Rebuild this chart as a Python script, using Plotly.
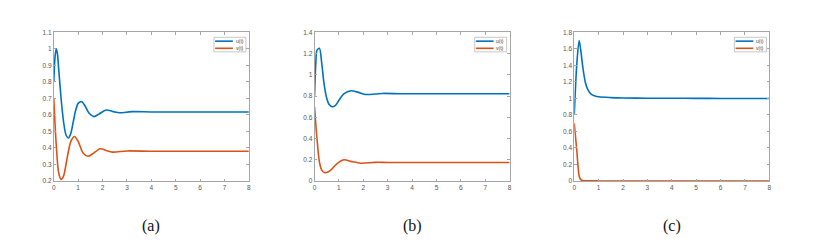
import plotly.graph_objects as go

# ---- data ----
# panel (a)
ta_u = [0, 0.05, 0.1, 0.15, 0.2, 0.3, 0.4, 0.5, 0.6, 0.7, 0.8, 0.9, 1.0, 1.15, 1.3, 1.45, 1.65, 1.85, 2.15, 2.45, 2.7, 3.2, 4, 5, 6, 7, 8]
ua = [0.80, 0.95, 1.00, 0.97, 0.88, 0.70, 0.56, 0.48, 0.46, 0.49, 0.56, 0.63, 0.67, 0.68, 0.65, 0.61, 0.59, 0.605, 0.63, 0.62, 0.613, 0.62, 0.618, 0.618, 0.618, 0.618, 0.618]
ta_v = [0, 0.1, 0.2, 0.3, 0.4, 0.5, 0.6, 0.7, 0.85, 1.0, 1.2, 1.4, 1.6, 1.9, 2.15, 2.4, 3.0, 4, 5, 6, 7, 8]
va = [0.70, 0.42, 0.25, 0.21, 0.23, 0.30, 0.38, 0.44, 0.47, 0.44, 0.37, 0.35, 0.365, 0.395, 0.385, 0.375, 0.382, 0.38, 0.38, 0.38, 0.38, 0.38]
# panel (b)
tb_u = [0, 0.05, 0.1, 0.2, 0.3, 0.4, 0.5, 0.6, 0.72, 0.85, 1.0, 1.2, 1.5, 1.8, 2.1, 2.5, 2.8, 3.5, 4, 5, 6, 7, 8]
ub = [0.80, 1.10, 1.23, 1.25, 1.10, 0.90, 0.78, 0.72, 0.70, 0.71, 0.76, 0.82, 0.85, 0.835, 0.815, 0.82, 0.825, 0.822, 0.822, 0.822, 0.822, 0.822, 0.822]
tb_v = [0, 0.1, 0.2, 0.3, 0.4, 0.55, 0.7, 0.9, 1.2, 1.5, 1.9, 2.5, 3, 4, 5, 6, 7, 8]
vb = [0.70, 0.40, 0.18, 0.10, 0.08, 0.085, 0.11, 0.16, 0.20, 0.185, 0.168, 0.176, 0.175, 0.175, 0.175, 0.175, 0.175, 0.175]
# panel (c)
tc_u = [0, 0.1, 0.2, 0.28, 0.35, 0.45, 0.55, 0.7, 0.85, 1.0, 1.5, 2, 3, 4, 5, 6, 7, 8]
uc = [0.80, 1.40, 1.70, 1.55, 1.38, 1.20, 1.11, 1.05, 1.03, 1.02, 1.01, 1.005, 1.003, 1.002, 1.001, 1.0, 1.0, 1.0]
tc_v = [0, 0.1, 0.2, 0.25, 0.3, 0.4, 0.6, 1, 2, 3, 4, 5, 6, 7, 8]
vc = [0.70, 0.38, 0.06, 0.025, 0.01, 0.004, 0.002, 0.001, 0.0, 0.0, 0.0, 0.0, 0.0, 0.0, 0.0]

panel_labels = ["(a)", "(b)", "(c)"]
series_names = ["u(t)", "v(t)"]
x_ticks = [0, 1, 2, 3, 4, 5, 6, 7, 8]
y_ranges = [[0.2, 1.1], [0, 1.4], [0, 1.8]]
y_dticks = [0.1, 0.2, 0.2]

BLUE = "#0072BD"
ORANGE = "#D95319"
colors = [BLUE, ORANGE]

panels = [
    (ta_u, ua, ta_v, va),
    (tb_u, ub, tb_v, vb),
    (tc_u, uc, tc_v, vc),
]

x_domains = [[44/833, 240/833], [306/833, 502/833], [567/833, 763/833]]
y_domain = [1 - 174/244, 1 - 21/244]

fig = go.Figure()
layout = {}
shapes = []
annotations = []
for i, (tu, u, tv, v) in enumerate(panels):
    sfx = "" if i == 0 else str(i + 1)
    xa, ya = "x" + sfx, "y" + sfx
    fig.add_trace(go.Scatter(x=tu, y=u, mode="lines", name=series_names[0],
                             line=dict(color=BLUE, width=1.6, shape="spline", smoothing=0.8),
                             xaxis=xa, yaxis=ya, showlegend=False))
    fig.add_trace(go.Scatter(x=tv, y=v, mode="lines", name=series_names[1],
                             line=dict(color=ORANGE, width=1.6, shape="spline", smoothing=0.8),
                             xaxis=xa, yaxis=ya, showlegend=False))
    axcommon = dict(showgrid=False, zeroline=False, showline=True, linecolor="#a6a6a6",
                    linewidth=0.8, mirror="ticks", ticks="inside", ticklen=2.5,
                    tickcolor="#a6a6a6", tickwidth=0.8,
                    tickfont=dict(family="Liberation Sans, Arial", size=6.5, color="#555555"))
    layout["xaxis" + sfx] = dict(axcommon, domain=x_domains[i], range=[0, 8],
                                 tickvals=x_ticks, anchor=ya)
    layout["yaxis" + sfx] = dict(axcommon, domain=y_domain, range=y_ranges[i],
                                 dtick=y_dticks[i], tick0=0, anchor=xa)

    # compact MATLAB-style legend box in the upper right of each panel
    xr, yr = xa + " domain", ya + " domain"
    shapes.append(dict(type="rect", xref=xr, yref=yr, x0=0.821, x1=0.985, y0=0.869, y1=0.967,
                       line=dict(color="#b0b0b0", width=0.7), fillcolor="white", layer="above"))
    for k, (name, col) in enumerate(zip(series_names, colors)):
        yy = [0.941, 0.893][k]
        shapes.append(dict(type="line", xref=xr, yref=yr, x0=0.827, x1=0.918, y0=yy, y1=yy,
                           line=dict(color=col, width=1.6), layer="above"))
        annotations.append(dict(text=name, xref=xr, yref=yr, x=0.922, y=yy, showarrow=False,
                                xanchor="left", yanchor="middle",
                                font=dict(family="Liberation Sans, Arial", size=5, color="#444444")))

    cx = (x_domains[i][0] + x_domains[i][1]) / 2
    annotations.append(dict(text=panel_labels[i], x=cx, y=1 - 220/244, xref="paper", yref="paper",
                            showarrow=False, xanchor="center", yanchor="middle",
                            font=dict(family="Liberation Serif, Times New Roman, serif", size=16, color="#111111")))

fig.update_layout(**layout)
fig.update_layout(width=833, height=244, margin=dict(l=0, r=0, t=0, b=0),
                  plot_bgcolor="white", paper_bgcolor="white",
                  annotations=annotations, shapes=shapes, showlegend=False)

fig.write_html("out.html")
